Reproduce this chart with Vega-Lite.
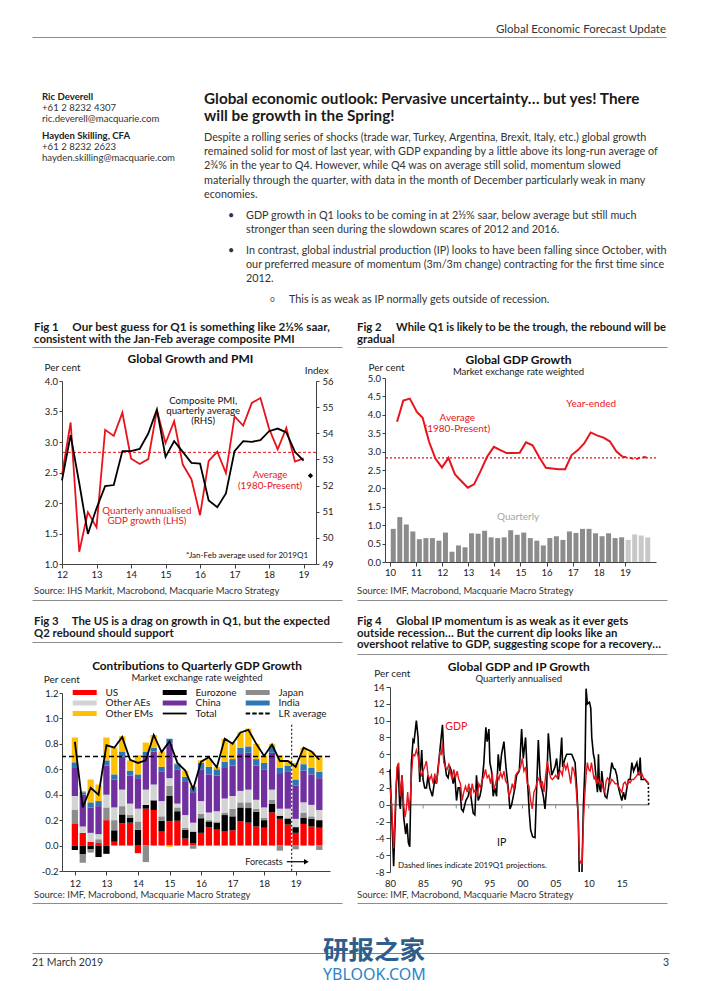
{
"$schema": "https://vega.github.io/schema/vega-lite/v6.json",
"padding": {"left": 32, "top": 0, "right": 0, "bottom": 4},
"background": "white",
"columns": 4,
"spacing": 0,
"bounds": "flush",
"align": "each",
"resolve": {"scale": {"color": "independent"}, "legend": {"color": "independent"}},
"config": {
  "view": {"stroke": null},
  "font": "Lato",
  "axis": {"labelFont": "Lato", "labelFontSize": 9.5, "labelColor": "#1a1a1a", "domainColor": "#404040", "tickColor": "#404040", "grid": false, "titleFont": "Lato", "titleFontWeight": "normal", "titleFontSize": 10, "titleColor": "#1a1a1a", "labelFlush": false, "labelOverlap": false, "tickSize": 3},
  "title": {"font": "Lato", "subtitleFont": "Lato", "frame": "group"},
  "text": {"font": "Lato"}
},
"datasets": {
  "gdp1": [{"t":12,"v":2.46},{"t":12.25,"v":3.32},{"t":12.5,"v":1.2},{"t":12.75,"v":1.85},{"t":13,"v":1.6},{"t":13.25,"v":3.2},{"t":13.5,"v":3.1},{"t":13.75,"v":3.48},{"t":14,"v":2.73},{"t":14.25,"v":2.64},{"t":14.5,"v":2.72},{"t":14.75,"v":3.52},{"t":15,"v":2.98},{"t":15.25,"v":3.34},{"t":15.5,"v":2.63},{"t":15.75,"v":2.39},{"t":16,"v":1.8},{"t":16.25,"v":2.69},{"t":16.5,"v":2.84},{"t":16.75,"v":2.49},{"t":17,"v":3.42},{"t":17.25,"v":3.27},{"t":17.5,"v":3.64},{"t":17.75,"v":3.72},{"t":18,"v":3.22},{"t":18.25,"v":2.88},{"t":18.5,"v":3.23},{"t":18.75,"v":2.68},{"t":19,"v":2.73}],
  "pmi1": [{"t":12,"p":52.2},{"t":12.25,"p":53.93},{"t":12.5,"p":52.09},{"t":12.75,"p":50.15},{"t":13,"p":51.13},{"t":13.25,"p":51.98},{"t":13.5,"p":52.02},{"t":13.75,"p":53.32},{"t":14,"p":53.32},{"t":14.25,"p":53.4},{"t":14.5,"p":53.99},{"t":14.75,"p":54.91},{"t":15,"p":53.1},{"t":15.25,"p":53.7},{"t":15.5,"p":53.29},{"t":15.75,"p":52.87},{"t":16,"p":52.84},{"t":16.25,"p":51.43},{"t":16.5,"p":51.17},{"t":16.75,"p":51.7},{"t":17,"p":53.32},{"t":17.25,"p":53.7},{"t":17.5,"p":53.67},{"t":17.75,"p":53.74},{"t":18,"p":54.08},{"t":18.25,"p":54.18},{"t":18.5,"p":54.03},{"t":18.75,"p":53.29},{"t":19,"p":52.95}],
  "bar2": [{"t":10.125,"v":0.9,"f":0},{"t":10.375,"v":1.22,"f":0},{"t":10.625,"v":1.02,"f":0},{"t":10.875,"v":0.83,"f":0},{"t":11.125,"v":0.62,"f":0},{"t":11.375,"v":0.65,"f":0},{"t":11.625,"v":0.65,"f":0},{"t":11.875,"v":0.58,"f":0},{"t":12.125,"v":0.8,"f":0},{"t":12.375,"v":0.28,"f":0},{"t":12.625,"v":0.45,"f":0},{"t":12.875,"v":0.4,"f":0},{"t":13.125,"v":0.78,"f":0},{"t":13.375,"v":0.77,"f":0},{"t":13.625,"v":0.85,"f":0},{"t":13.875,"v":0.67,"f":0},{"t":14.125,"v":0.65,"f":0},{"t":14.375,"v":0.67,"f":0},{"t":14.625,"v":0.86,"f":0},{"t":14.875,"v":0.74,"f":0},{"t":15.125,"v":0.8,"f":0},{"t":15.375,"v":0.65,"f":0},{"t":15.625,"v":0.58,"f":0},{"t":15.875,"v":0.45,"f":0},{"t":16.125,"v":0.65,"f":0},{"t":16.375,"v":0.7,"f":0},{"t":16.625,"v":0.6,"f":0},{"t":16.875,"v":0.83,"f":0},{"t":17.125,"v":0.79,"f":0},{"t":17.375,"v":0.9,"f":0},{"t":17.625,"v":0.9,"f":0},{"t":17.875,"v":0.78,"f":0},{"t":18.125,"v":0.7,"f":0},{"t":18.375,"v":0.78,"f":0},{"t":18.625,"v":0.65,"f":0},{"t":18.875,"v":0.67,"f":0},{"t":19.125,"v":0.6,"f":1},{"t":19.375,"v":0.75,"f":1},{"t":19.625,"v":0.72,"f":1},{"t":19.875,"v":0.67,"f":1}],
  "ye2": [{"t":10.27,"v":3.81},{"t":10.51,"v":4.39},{"t":10.76,"v":4.44},{"t":11.03,"v":4.08},{"t":11.25,"v":3.92},{"t":11.5,"v":3.26},{"t":11.74,"v":2.81},{"t":11.99,"v":2.57},{"t":12.24,"v":2.83},{"t":12.49,"v":2.38},{"t":12.73,"v":2.2},{"t":12.98,"v":2.02},{"t":13.22,"v":2.11},{"t":13.47,"v":2.47},{"t":13.72,"v":2.86},{"t":13.98,"v":3.13},{"t":14.23,"v":3.04},{"t":14.47,"v":2.96},{"t":14.72,"v":2.96},{"t":14.97,"v":2.97},{"t":15.21,"v":3.25},{"t":15.46,"v":3.17},{"t":15.71,"v":2.86},{"t":15.97,"v":2.56},{"t":16.21,"v":2.54},{"t":16.46,"v":2.52},{"t":16.71,"v":2.52},{"t":16.95,"v":2.9},{"t":17.2,"v":3.04},{"t":17.44,"v":3.22},{"t":17.69,"v":3.52},{"t":17.93,"v":3.44},{"t":18.18,"v":3.38},{"t":18.42,"v":3.28},{"t":18.67,"v":3.01},{"t":18.91,"v":2.86}],
  "ye2f": [{"t":18.91,"v":2.86},{"t":19.16,"v":2.84},{"t":19.41,"v":2.79},{"t":19.65,"v":2.86},{"t":19.9,"v":2.83}],
  "c3": [
    {"t":12,"US":0.175,"Eurozone":-0.035,"Japan":0.105,"Other AEs":0.11,"China":0.22,"India":0.045,"Other EMs":0.195,"tot":0.815},
    {"t":12.25,"US":0.1,"Eurozone":-0.07,"Japan":-0.065,"Other AEs":0.05,"China":0.25,"India":0.02,"Other EMs":0.01,"tot":0.3},
    {"t":12.5,"US":0.03,"Eurozone":-0.03,"Japan":-0.025,"Other AEs":0.07,"China":0.2,"India":0.04,"Other EMs":0.18,"tot":0.455},
    {"t":12.75,"US":0.02,"Eurozone":-0.09,"Japan":0.03,"Other AEs":0.04,"China":0.22,"India":0.04,"Other EMs":0.13,"tot":0.4},
    {"t":13,"US":0.2,"Eurozone":-0.065,"Japan":0.1,"Other AEs":0.1,"China":0.23,"India":0.04,"Other EMs":0.18,"tot":0.79},
    {"t":13.25,"US":0.03,"Eurozone":0.09,"Japan":0.08,"Other AEs":0.1,"China":0.22,"India":0.04,"Other EMs":0.21,"tot":0.77},
    {"t":13.5,"US":0.175,"Eurozone":0.07,"Japan":0.065,"Other AEs":0.13,"China":0.26,"India":0.04,"Other EMs":0.12,"tot":0.855},
    {"t":13.75,"US":0.18,"Eurozone":0.04,"Japan":0.02,"Other AEs":0.09,"China":0.22,"India":0.04,"Other EMs":0.08,"tot":0.675},
    {"t":14,"US":-0.06,"Eurozone":0.125,"Japan":0.065,"Other AEs":0.1,"China":0.24,"India":0.03,"Other EMs":0.15,"tot":0.65},
    {"t":14.25,"US":0.29,"Eurozone":0.03,"Japan":-0.13,"Other AEs":0.12,"China":0.27,"India":0.03,"Other EMs":0.07,"tot":0.67},
    {"t":14.5,"US":0.28,"Eurozone":0.075,"Japan":0.005,"Other AEs":0.12,"China":0.26,"India":0.03,"Other EMs":0.1,"tot":0.87},
    {"t":14.75,"US":0.11,"Eurozone":0.085,"Japan":0.035,"Other AEs":0.12,"China":0.23,"India":0.04,"Other EMs":0.12,"tot":0.735},
    {"t":15,"US":0.19,"Eurozone":0.2,"Japan":0.08,"Other AEs":0.06,"China":0.27,"India":0.04,"Other EMs":-0.01,"tot":0.82},
    {"t":15.25,"US":0.195,"Eurozone":0.075,"Japan":0.03,"Other AEs":0.03,"China":0.27,"India":0.04,"Other EMs":0.01,"tot":0.65},
    {"t":15.5,"US":0.055,"Eurozone":0.07,"Japan":0.015,"Other AEs":0.1,"China":0.26,"India":0.04,"Other EMs":0.05,"tot":0.59},
    {"t":15.75,"US":0.02,"Eurozone":0.09,"Japan":-0.025,"Other AEs":0.07,"China":0.24,"India":0.04,"Other EMs":0.01,"tot":0.445},
    {"t":16,"US":0.1,"Eurozone":0.115,"Japan":0.035,"Other AEs":0.1,"China":0.25,"India":0.05,"Other EMs":0.02,"tot":0.66},
    {"t":16.25,"US":0.145,"Eurozone":0.045,"Japan":0.01,"Other AEs":0.06,"China":0.3,"India":0.06,"Other EMs":0.06,"tot":0.695},
    {"t":16.5,"US":0.125,"Eurozone":0.055,"Japan":0.01,"Other AEs":0.08,"China":0.28,"India":0.05,"Other EMs":0.02,"tot":0.615},
    {"t":16.75,"US":0.11,"Eurozone":0.13,"Japan":0.02,"Other AEs":0.11,"China":0.24,"India":0.05,"Other EMs":0.18,"tot":0.84},
    {"t":17,"US":0.12,"Eurozone":0.11,"Japan":0.06,"Other AEs":0.1,"China":0.24,"India":0.05,"Other EMs":0.13,"tot":0.8},
    {"t":17.25,"US":0.19,"Eurozone":0.11,"Japan":0.04,"Other AEs":0.09,"China":0.29,"India":0.05,"Other EMs":0.12,"tot":0.89},
    {"t":17.5,"US":0.18,"Eurozone":0.115,"Japan":0.045,"Other AEs":0.1,"China":0.29,"India":0.05,"Other EMs":0.14,"tot":0.91},
    {"t":17.75,"US":0.15,"Eurozone":0.115,"Japan":0.025,"Other AEs":0.07,"China":0.27,"India":0.05,"Other EMs":0.12,"tot":0.8},
    {"t":18,"US":0.14,"Eurozone":0.06,"Japan":0.02,"Other AEs":0.08,"China":0.3,"India":0.05,"Other EMs":0.06,"tot":0.705},
    {"t":18.25,"US":0.26,"Eurozone":0.07,"Japan":0.03,"Other AEs":0.08,"China":0.29,"India":0.05,"Other EMs":0.02,"tot":0.795},
    {"t":18.5,"US":0.21,"Eurozone":0.025,"Japan":-0.04,"Other AEs":0.055,"China":0.28,"India":0.04,"Other EMs":0.1,"tot":0.665},
    {"t":18.75,"US":0.165,"Eurozone":0.045,"Japan":0.01,"Other AEs":0.07,"China":0.29,"India":0.05,"Other EMs":0.04,"tot":0.665},
    {"t":19,"US":0.1,"Eurozone":0.045,"Japan":-0.03,"Other AEs":0.065,"China":0.26,"India":0.05,"Other EMs":0.13,"tot":0.62},
    {"t":19.25,"US":0.17,"Eurozone":0.05,"Japan":0.04,"Other AEs":0.08,"China":0.25,"India":0.05,"Other EMs":0.13,"tot":0.77},
    {"t":19.5,"US":0.15,"Eurozone":0.06,"Japan":0.02,"Other AEs":0.09,"China":0.24,"India":0.05,"Other EMs":0.13,"tot":0.74},
    {"t":19.75,"US":0.14,"Eurozone":0.06,"Japan":-0.035,"Other AEs":0.08,"China":0.25,"India":0.05,"Other EMs":0.13,"tot":0.675}
  ],
  "ip4": [{"t":1980,"v":4.2},{"t":1980.55,"v":-7.3},{"t":1980.96,"v":2.5},{"t":1981.21,"v":4.8},{"t":1981.46,"v":0},{"t":1981.56,"v":-0.5},{"t":1981.82,"v":3.5},{"t":1982.07,"v":-1.5},{"t":1982.37,"v":-3.5},{"t":1982.57,"v":-2.2},{"t":1982.77,"v":-4.5},{"t":1982.98,"v":-5},{"t":1983.23,"v":5},{"t":1983.48,"v":7.7},{"t":1983.63,"v":7.5},{"t":1983.98,"v":10},{"t":1984.24,"v":8},{"t":1984.49,"v":2.7},{"t":1984.79,"v":6.5},{"t":1984.99,"v":3},{"t":1985.24,"v":2},{"t":1985.5,"v":2},{"t":1985.75,"v":3.5},{"t":1986,"v":2},{"t":1986.4,"v":1},{"t":1986.76,"v":3},{"t":1987.01,"v":2.5},{"t":1987.41,"v":5.5},{"t":1987.92,"v":9.5},{"t":1988.12,"v":6},{"t":1988.52,"v":3.5},{"t":1988.77,"v":3.2},{"t":1989.03,"v":4.5},{"t":1989.28,"v":4},{"t":1989.53,"v":2.5},{"t":1989.78,"v":3.5},{"t":1990.04,"v":0.5},{"t":1990.29,"v":2},{"t":1990.54,"v":2},{"t":1990.79,"v":-0.5},{"t":1991.05,"v":-0.8},{"t":1991.45,"v":0.5},{"t":1991.8,"v":1},{"t":1992.05,"v":2},{"t":1992.3,"v":0.5},{"t":1992.56,"v":-1},{"t":1992.81,"v":-1.2},{"t":1993.06,"v":3.5},{"t":1993.31,"v":0.5},{"t":1993.57,"v":1},{"t":1993.82,"v":2},{"t":1994.17,"v":5},{"t":1994.47,"v":9.2},{"t":1994.67,"v":7.5},{"t":1994.93,"v":9},{"t":1995.08,"v":5},{"t":1995.33,"v":4},{"t":1995.58,"v":1},{"t":1995.83,"v":2},{"t":1996.09,"v":1},{"t":1996.34,"v":6},{"t":1996.59,"v":4},{"t":1996.84,"v":6},{"t":1997.2,"v":7.5},{"t":1997.5,"v":4.5},{"t":1997.85,"v":2},{"t":1998.1,"v":-0.5},{"t":1998.36,"v":0},{"t":1998.61,"v":1},{"t":1998.86,"v":2},{"t":1999.11,"v":3.5},{"t":1999.52,"v":4},{"t":1999.87,"v":9},{"t":2000.12,"v":5.5},{"t":2000.47,"v":8},{"t":2000.78,"v":2.5},{"t":2001.03,"v":-1},{"t":2001.23,"v":-3},{"t":2001.53,"v":-3.8},{"t":2001.89,"v":-3.9},{"t":2002.14,"v":2},{"t":2002.39,"v":7.7},{"t":2002.64,"v":3.5},{"t":2002.89,"v":2},{"t":2003.15,"v":1},{"t":2003.4,"v":-0.5},{"t":2003.65,"v":2},{"t":2003.9,"v":8.5},{"t":2004.15,"v":6},{"t":2004.41,"v":3.5},{"t":2004.66,"v":4},{"t":2004.91,"v":4.5},{"t":2005.16,"v":5.5},{"t":2005.42,"v":3},{"t":2005.67,"v":5},{"t":2005.92,"v":8},{"t":2006.07,"v":4.5},{"t":2006.42,"v":5.5},{"t":2006.68,"v":6},{"t":2006.93,"v":6},{"t":2007.43,"v":6},{"t":2007.69,"v":5.5},{"t":2007.94,"v":5},{"t":2008.19,"v":2},{"t":2008.44,"v":-2},{"t":2008.59,"v":-9},{"t":2008.95,"v":-9},{"t":2009.2,"v":0},{"t":2009.45,"v":5},{"t":2009.6,"v":13.8},{"t":2009.8,"v":12},{"t":2010.11,"v":12.2},{"t":2010.31,"v":11.5},{"t":2010.46,"v":8},{"t":2010.71,"v":6},{"t":2010.86,"v":5.5},{"t":2011.12,"v":3},{"t":2011.32,"v":1.5},{"t":2011.47,"v":6},{"t":2011.62,"v":2},{"t":2011.82,"v":1.5},{"t":2011.97,"v":4},{"t":2012.23,"v":2},{"t":2012.48,"v":1},{"t":2012.73,"v":0.8},{"t":2012.98,"v":2},{"t":2013.24,"v":3.5},{"t":2013.49,"v":5},{"t":2013.74,"v":4.3},{"t":2013.99,"v":4.2},{"t":2014.24,"v":3.5},{"t":2014.5,"v":2},{"t":2014.75,"v":1.2},{"t":2015,"v":0.5},{"t":2015.25,"v":1.5},{"t":2015.5,"v":0.6},{"t":2015.76,"v":2},{"t":2016.01,"v":3},{"t":2016.26,"v":3},{"t":2016.51,"v":5},{"t":2016.77,"v":4},{"t":2017.02,"v":4.5},{"t":2017.27,"v":5},{"t":2017.52,"v":3.5},{"t":2017.77,"v":5.6},{"t":2017.92,"v":3},{"t":2018.28,"v":3},{"t":2018.53,"v":3},{"t":2018.78,"v":2.7},{"t":2019,"v":2.6}],
  "ip4d": [{"t":2019,"v":2.6},{"t":2019.05,"v":0}],
  "gdp4": [{"t":1980,"v":2},{"t":1980.25,"v":0},{"t":1980.55,"v":-5.2},{"t":1980.86,"v":1},{"t":1981.06,"v":4.5},{"t":1981.31,"v":5},{"t":1981.56,"v":1},{"t":1981.82,"v":3.5},{"t":1982.07,"v":0},{"t":1982.27,"v":-1.5},{"t":1982.47,"v":-0.5},{"t":1982.67,"v":1.5},{"t":1982.87,"v":-0.7},{"t":1983.08,"v":1},{"t":1983.28,"v":4},{"t":1983.48,"v":6},{"t":1983.73,"v":5.8},{"t":1983.98,"v":6.5},{"t":1984.24,"v":5.8},{"t":1984.49,"v":4},{"t":1984.74,"v":3.5},{"t":1984.99,"v":4},{"t":1985.24,"v":4.5},{"t":1985.5,"v":5.2},{"t":1985.75,"v":3.5},{"t":1986,"v":3},{"t":1986.25,"v":3.5},{"t":1986.51,"v":2.5},{"t":1986.76,"v":3.7},{"t":1987.01,"v":2.5},{"t":1987.26,"v":4},{"t":1987.51,"v":6.2},{"t":1987.77,"v":6},{"t":1987.92,"v":7.4},{"t":1988.12,"v":5},{"t":1988.37,"v":4.5},{"t":1988.62,"v":4.2},{"t":1988.88,"v":4.8},{"t":1989.13,"v":3.8},{"t":1989.38,"v":3},{"t":1989.63,"v":4.2},{"t":1989.88,"v":3.2},{"t":1990.14,"v":4},{"t":1990.39,"v":3},{"t":1990.64,"v":2.5},{"t":1990.89,"v":0.5},{"t":1991.14,"v":1.5},{"t":1991.4,"v":2.2},{"t":1991.65,"v":1.5},{"t":1991.9,"v":2.5},{"t":1992.15,"v":1},{"t":1992.41,"v":2.5},{"t":1992.66,"v":1.5},{"t":1992.91,"v":1.8},{"t":1993.16,"v":1},{"t":1993.41,"v":2.5},{"t":1993.67,"v":2},{"t":1993.92,"v":3},{"t":1994.17,"v":3.3},{"t":1994.42,"v":4.2},{"t":1994.67,"v":3.2},{"t":1994.93,"v":3.5},{"t":1995.18,"v":2.5},{"t":1995.43,"v":3.8},{"t":1995.68,"v":1.8},{"t":1995.94,"v":2.5},{"t":1996.19,"v":3.5},{"t":1996.44,"v":3},{"t":1996.69,"v":3.8},{"t":1996.94,"v":3.2},{"t":1997.2,"v":4},{"t":1997.45,"v":2.8},{"t":1997.7,"v":2.5},{"t":1997.95,"v":1},{"t":1998.2,"v":1.5},{"t":1998.46,"v":2.5},{"t":1998.71,"v":1.8},{"t":1998.96,"v":3.5},{"t":1999.21,"v":3.8},{"t":1999.47,"v":4},{"t":1999.72,"v":4.5},{"t":1999.97,"v":5.5},{"t":2000.22,"v":4},{"t":2000.47,"v":4.5},{"t":2000.73,"v":2.5},{"t":2000.98,"v":2.2},{"t":2001.23,"v":0.5},{"t":2001.48,"v":-0.5},{"t":2001.73,"v":1.5},{"t":2001.99,"v":2},{"t":2002.24,"v":2.8},{"t":2002.49,"v":3.2},{"t":2002.74,"v":2.2},{"t":2002.99,"v":2.8},{"t":2003.25,"v":1.5},{"t":2003.5,"v":3.5},{"t":2003.75,"v":5.2},{"t":2004,"v":4},{"t":2004.26,"v":3.2},{"t":2004.51,"v":3},{"t":2004.76,"v":3.2},{"t":2005.01,"v":3.5},{"t":2005.26,"v":3.2},{"t":2005.52,"v":3.8},{"t":2005.77,"v":4},{"t":2006.02,"v":3.5},{"t":2006.27,"v":5},{"t":2006.53,"v":4.2},{"t":2006.78,"v":4.8},{"t":2007.03,"v":3.8},{"t":2007.28,"v":2.5},{"t":2007.53,"v":4.5},{"t":2007.79,"v":4},{"t":2007.99,"v":3},{"t":2008.19,"v":1},{"t":2008.39,"v":-1},{"t":2008.6,"v":-6.5},{"t":2008.85,"v":-7},{"t":2009,"v":-7},{"t":2009.2,"v":-2},{"t":2009.4,"v":1},{"t":2009.6,"v":3.5},{"t":2009.8,"v":5},{"t":2010,"v":4.2},{"t":2010.21,"v":4},{"t":2010.41,"v":5},{"t":2010.61,"v":4},{"t":2010.81,"v":3},{"t":2011.01,"v":3.5},{"t":2011.21,"v":2.5},{"t":2011.42,"v":3},{"t":2011.62,"v":2.5},{"t":2011.82,"v":2.8},{"t":2012.02,"v":2.5},{"t":2012.22,"v":1.8},{"t":2012.43,"v":1.5},{"t":2012.63,"v":2.8},{"t":2012.83,"v":3.2},{"t":2013.03,"v":3},{"t":2013.23,"v":2.5},{"t":2013.48,"v":3},{"t":2013.74,"v":2.8},{"t":2013.99,"v":2.5},{"t":2014.24,"v":2.5},{"t":2014.49,"v":2.2},{"t":2014.75,"v":1.8},{"t":2015,"v":1.5},{"t":2015.25,"v":2.5},{"t":2015.5,"v":2.7},{"t":2015.75,"v":2.2},{"t":2016.01,"v":2.8},{"t":2016.26,"v":2.6},{"t":2016.51,"v":3},{"t":2016.76,"v":3},{"t":2017.01,"v":3.2},{"t":2017.27,"v":3.5},{"t":2017.52,"v":3.8},{"t":2017.77,"v":3.5},{"t":2018.02,"v":3.7},{"t":2018.27,"v":3.2},{"t":2018.53,"v":3},{"t":2018.78,"v":2.8},{"t":2019.03,"v":2.5}]
},
"concat": [
  {"width": 1, "height": 37, "data": {"values": [{"a": 0}]}, "mark": {"type": "text", "text": ""},
   "encoding": {"x": {"field": "a", "type": "quantitative", "scale": {"domain": [0, 1], "range": [0, 634]}, "axis": {"orient": "bottom", "labels": false, "ticks": false, "grid": false, "title": null, "domainColor": "#8c8c8c", "domainWidth": 1.2}}},
   "title": {"text": "Global Economic Forecast Update", "orient": "bottom", "anchor": "end", "frame": "group", "offset": -13.5, "dx": 633, "fontSize": 11.5, "fontWeight": "normal", "color": "#333333"}},
  {"width": 1, "height": 1, "data": {"values": []}, "mark": "text"},
  {"width": 1, "height": 1, "data": {"values": []}, "mark": "text"},
  {"width": 1, "height": 1, "data": {"values": []}, "mark": "text"},

  {"width": 1, "height": 55, "data": {"values": []}, "mark": "text",
   "title": {"text": "Ric Deverell", "subtitle": ["+61 2 8232 4307", "ric.deverell@macquarie.com"], "orient": "bottom", "anchor": "start", "frame": "group", "offset": 0, "dx": 10, "fontSize": 9.6, "fontWeight": "bold", "color": "#222222", "subtitleFontSize": 9.6, "subtitleFontWeight": "normal", "subtitleColor": "#333333", "subtitleLineHeight": 11, "subtitlePadding": 1.4}},
  {"width": 1, "height": 55, "data": {"values": []}, "mark": "text",
   "title": {"text": ["Global economic outlook: Pervasive uncertainty… but yes! There", "will be growth in the Spring!"],
     "subtitle": ["Despite a rolling series of shocks (trade war, Turkey, Argentina, Brexit, Italy, etc.) global growth", "remained solid for most of last year, with GDP expanding by a little above its long-run average of", "2¾% in the year to Q4. However, while Q4 was on average still solid, momentum slowed", "materially through the quarter, with data in the month of December particularly weak in many", "economies."],
     "orient": "bottom", "anchor": "start", "frame": "group", "offset": 0, "dx": 142, "fontSize": 15.3, "fontWeight": "bold", "lineHeight": 16.5, "color": "#1a1a1a", "subtitleFontSize": 10.8, "subtitleFontWeight": "normal", "subtitleColor": "#333333", "subtitleLineHeight": 14.2, "subtitlePadding": 8.2}},
  {"width": 1, "height": 1, "data": {"values": []}, "mark": "text"},
  {"width": 1, "height": 1, "data": {"values": []}, "mark": "text"},

  {"width": 1, "height": 39, "data": {"values": []}, "mark": "text",
   "title": {"text": "Hayden Skilling, CFA", "subtitle": ["+61 2 8232 2623", "hayden.skilling@macquarie.com"], "orient": "bottom", "anchor": "start", "frame": "group", "offset": 0, "dx": 10, "fontSize": 9.6, "fontWeight": "bold", "color": "#222222", "subtitleFontSize": 9.6, "subtitleFontWeight": "normal", "subtitleColor": "#333333", "subtitleLineHeight": 11, "subtitlePadding": 1.4}},
  {"width": 1, "height": 1, "data": {"values": []}, "mark": "text"},
  {"width": 1, "height": 1, "data": {"values": []}, "mark": "text"},
  {"width": 1, "height": 1, "data": {"values": []}, "mark": "text"},

  {"width": 1, "height": 79, "data": {"values": []}, "mark": "text",
   "title": {"text": "•", "orient": "bottom", "anchor": "start", "frame": "group", "offset": 0, "dx": 196, "fontSize": 10.8, "fontWeight": "normal", "color": "#333333"}},
  {"width": 1, "height": 79, "data": {"values": []}, "mark": "text",
   "title": {"text": ["GDP growth in Q1 looks to be coming in at 2½% saar, below average but still much", "stronger than seen during the slowdown scares of 2012 and 2016."], "orient": "bottom", "anchor": "start", "frame": "group", "offset": 0, "dx": 184, "fontSize": 10.8, "lineHeight": 14, "fontWeight": "normal", "color": "#333333"}},
  {"width": 1, "height": 1, "data": {"values": []}, "mark": "text"},
  {"width": 1, "height": 1, "data": {"values": []}, "mark": "text"},

  {"width": 1, "height": 35, "data": {"values": []}, "mark": "text",
   "title": {"text": "•", "orient": "bottom", "anchor": "start", "frame": "group", "offset": 0, "dx": 196, "fontSize": 10.8, "fontWeight": "normal", "color": "#333333"}},
  {"width": 1, "height": 35, "data": {"values": []}, "mark": "text",
   "title": {"text": ["In contrast, global industrial production (IP) looks to have been falling since October, with", "our preferred measure of momentum (3m/3m change) contracting for the first time since", "2012."], "orient": "bottom", "anchor": "start", "frame": "group", "offset": 0, "dx": 184, "fontSize": 10.8, "lineHeight": 14, "fontWeight": "normal", "color": "#333333"}},
  {"width": 1, "height": 1, "data": {"values": []}, "mark": "text"},
  {"width": 1, "height": 1, "data": {"values": []}, "mark": "text"},

  {"width": 1, "height": 49, "data": {"values": []}, "mark": "text",
   "title": {"text": "o", "orient": "bottom", "anchor": "start", "frame": "group", "offset": 0, "dx": 238, "dy": 1, "fontSize": 8.5, "fontWeight": "normal", "color": "#555555"}},
  {"width": 1, "height": 49, "data": {"values": []}, "mark": "text",
   "title": {"text": "This is as weak as IP normally gets outside of recession.", "orient": "bottom", "anchor": "start", "frame": "group", "offset": 0, "dx": 227, "fontSize": 10.8, "fontWeight": "normal", "color": "#333333"}},
  {"width": 1, "height": 1, "data": {"values": []}, "mark": "text"},
  {"width": 1, "height": 1, "data": {"values": []}, "mark": "text"},

  {"width": 1, "height": 28, "data": {"values": []}, "mark": "text",
   "title": {"text": ["Fig 1", "consistent with the Jan-Feb average composite PMI"], "orient": "bottom", "anchor": "start", "frame": "group", "offset": 0, "dx": 2, "fontSize": 11.4, "fontWeight": "bold", "lineHeight": 11.7, "color": "#1a1a1a"}},
  {"width": 1, "height": 28, "data": {"values": []}, "mark": "text",
   "title": {"text": "Our best guess for Q1 is something like 2½% saar,", "orient": "bottom", "anchor": "start", "frame": "group", "offset": 0, "dx": 10.3, "fontSize": 11.7, "fontWeight": "bold", "color": "#1a1a1a"}},
  {"width": 1, "height": 28, "data": {"values": []}, "mark": "text",
   "title": {"text": ["Fig 2", "gradual"], "orient": "bottom", "anchor": "start", "frame": "group", "offset": 0, "dx": 27, "fontSize": 11.4, "fontWeight": "bold", "lineHeight": 11.7, "color": "#1a1a1a"}},
  {"width": 1, "height": 28, "data": {"values": []}, "mark": "text",
   "title": {"text": "While Q1 is likely to be the trough, the rebound will be", "orient": "bottom", "anchor": "start", "frame": "group", "offset": 0, "dx": 11, "fontSize": 11.15, "fontWeight": "bold", "color": "#1a1a1a"}},

  {"width": 1, "height": 25, "data": {"values": [{"a": 0}]}, "mark": {"type": "text", "text": ""},
   "encoding": {"x": {"field": "a", "type": "quantitative", "scale": {"domain": [0, 1], "range": [0, 310]}, "axis": {"orient": "bottom", "labels": false, "ticks": false, "grid": false, "title": null, "domainColor": "#8c8c8c", "domainWidth": 1.2}}},
   "title": {"text": "Global Growth and PMI", "orient": "bottom", "anchor": "middle", "frame": "group", "offset": 7, "dx": 158, "fontSize": 12, "fontWeight": "bold", "color": "#111111"}},
  {"width": 1, "height": 56, "data": {"values": []}, "mark": "text"},
  {"width": 1, "height": 1, "data": {"values": []}, "mark": "text"},
  {"width": 1, "height": 25, "data": {"values": [{"a": 0}]}, "mark": {"type": "text", "text": ""},
   "encoding": {"x": {"field": "a", "type": "quantitative", "scale": {"domain": [0, 1], "range": [-28, 282]}, "axis": {"orient": "bottom", "labels": false, "ticks": false, "grid": false, "title": null, "domainColor": "#8c8c8c", "domainWidth": 1.2}}},
   "title": {"text": "Global GDP Growth", "subtitle": "Market exchange rate weighted", "orient": "bottom", "anchor": "middle", "frame": "group", "offset": 7.5, "dx": 133, "fontSize": 12, "fontWeight": "bold", "color": "#111111", "subtitleFontSize": 9.5, "subtitleColor": "#1a1a1a", "subtitlePadding": 0}},

  {"width": 30, "height": 1, "data": {"values": []}, "mark": "text"},
  {"width": 254, "height": 186,
   "layer": [
     {"layer": [
       {"data": {"values": [{"v": 2.83}]}, "mark": {"type": "rule", "color": "#e8141c", "strokeDash": [3, 2], "strokeWidth": 1},
        "encoding": {"y": {"field": "v", "type": "quantitative", "scale": {"domain": [1, 4], "range": [186, 3], "nice": false, "zero": false},
          "axis": {"values": [1, 1.5, 2, 2.5, 3, 3.5, 4], "tickCount": 50, "format": ".1f", "labelOverlap": false, "title": "Per cent", "titleAngle": 0, "titleAlign": "left", "titleBaseline": "alphabetic", "titleX": -18, "titleY": -8, "labelPadding": 1.5, "tickSize": 3}}}},
       {"data": {"name": "gdp1"}, "mark": {"type": "line", "color": "#e8141c", "strokeWidth": 1.8},
        "encoding": {"x": {"field": "t", "type": "quantitative", "scale": {"domain": [12, 19.36], "nice": false, "zero": false}, "axis": {"values": [12, 13, 14, 15, 16, 17, 18, 19], "tickCount": 50, "format": "d", "labelOverlap": false, "title": null, "tickSize": 4, "labelPadding": 1}},
          "y": {"field": "v", "type": "quantitative", "scale": {"domain": [1, 4], "range": [186, 3], "nice": false, "zero": false}}}},
       {"data": {"values": [{"t": 14.46, "v": 1.877, "label": "Quarterly annualised\nGDP growth (LHS)"}, {"t": 18.03, "v": 2.459, "label": "Average\n(1980-Present)"}]},
        "mark": {"type": "text", "color": "#e8141c", "fontSize": 9.8, "lineBreak": "\n", "lineHeight": 10.5},
        "encoding": {"x": {"field": "t", "type": "quantitative", "scale": {"domain": [12, 19.36], "nice": false, "zero": false}}, "y": {"field": "v", "type": "quantitative", "scale": {"domain": [1, 4], "range": [186, 3], "nice": false, "zero": false}}, "text": {"field": "label"}}},
       {"data": {"values": [{"t": 16.09, "v": 3.675, "label": "Composite PMI,\nquarterly average\n(RHS)"}]},
        "mark": {"type": "text", "color": "#111111", "fontSize": 9.7, "lineBreak": "\n", "lineHeight": 10.2},
        "encoding": {"x": {"field": "t", "type": "quantitative", "scale": {"domain": [12, 19.36], "nice": false, "zero": false}}, "y": {"field": "v", "type": "quantitative", "scale": {"domain": [1, 4], "range": [186, 3], "nice": false, "zero": false}}, "text": {"field": "label"}}},
       {"data": {"values": [{"t": 19.13, "v": 1.131, "label": "*Jan-Feb average used for 2019Q1"}]},
        "mark": {"type": "text", "color": "#111111", "fontSize": 8, "align": "right"},
        "encoding": {"x": {"field": "t", "type": "quantitative", "scale": {"domain": [12, 19.36], "nice": false, "zero": false}}, "y": {"field": "v", "type": "quantitative", "scale": {"domain": [1, 4], "range": [186, 3], "nice": false, "zero": false}}, "text": {"field": "label"}}}
     ]},
     {"layer": [
       {"data": {"name": "pmi1"}, "mark": {"type": "line", "color": "#000000", "strokeWidth": 1.8},
        "encoding": {"x": {"field": "t", "type": "quantitative", "scale": {"domain": [12, 19.36], "nice": false, "zero": false}},
          "y": {"field": "p", "type": "quantitative", "scale": {"domain": [49, 56], "range": [186, 3], "nice": false, "zero": false},
            "axis": {"orient": "right", "values": [49, 50, 51, 52, 53, 54, 55, 56], "tickCount": 50, "format": "d", "labelOverlap": false, "title": "Index", "titleAngle": 0, "titleAlign": "right", "titleBaseline": "alphabetic", "titleX": 12.3, "titleY": -4.3, "tickSize": 3, "labelPadding": 3}}}},
       {"data": {"values": [{"t": 19.2, "p": 52.38}]}, "mark": {"type": "point", "shape": "diamond", "filled": true, "color": "#000000", "size": 28, "opacity": 1},
        "encoding": {"x": {"field": "t", "type": "quantitative", "scale": {"domain": [12, 19.36], "nice": false, "zero": false}},
          "y": {"field": "p", "type": "quantitative", "scale": {"domain": [49, 56], "range": [186, 3], "nice": false, "zero": false}}}}
     ]}
   ],
   "resolve": {"scale": {"y": "independent"}}
  },
  {"width": 55, "height": 1, "data": {"values": []}, "mark": "text"},
  {"width": 271, "height": 184,
   "layer": [
     {"data": {"name": "bar2"}, "transform": [{"filter": "datum.f == 0"}], "mark": {"type": "bar", "color": "#8c8c8c", "size": 5},
      "encoding": {"x": {"field": "t", "type": "quantitative", "scale": {"domain": [10, 20], "nice": false, "zero": false}, "axis": {"values": [10, 11, 12, 13, 14, 15, 16, 17, 18, 19], "tickCount": 50, "format": "d", "labelOverlap": false, "title": null, "tickSize": 4, "labelPadding": 1}},
        "y": {"field": "v", "type": "quantitative", "scale": {"domain": [0, 5], "nice": false}, "axis": {"values": [0, 0.5, 1, 1.5, 2, 2.5, 3, 3.5, 4, 4.5, 5], "tickCount": 50, "format": ".1f", "labelOverlap": false, "title": "Per cent", "titleAngle": 0, "titleAlign": "left", "titleBaseline": "alphabetic", "titleX": -17, "titleY": -8, "labelPadding": 1.5, "tickSize": 3}}}},
     {"data": {"name": "bar2"}, "transform": [{"filter": "datum.f == 1"}], "mark": {"type": "bar", "color": "#c8c8c8", "size": 5},
      "encoding": {"x": {"field": "t", "type": "quantitative", "scale": {"domain": [10, 20], "nice": false, "zero": false}}, "y": {"field": "v", "type": "quantitative", "scale": {"domain": [0, 5], "nice": false}}}},
     {"data": {"values": [{"v": 2.83}]}, "mark": {"type": "rule", "color": "#e8141c", "strokeDash": [2, 2], "strokeWidth": 1.2},
      "encoding": {"y": {"field": "v", "type": "quantitative", "scale": {"domain": [0, 5], "nice": false}}}},
     {"data": {"name": "ye2"}, "mark": {"type": "line", "color": "#e8141c", "strokeWidth": 2},
      "encoding": {"x": {"field": "t", "type": "quantitative", "scale": {"domain": [10, 20], "nice": false, "zero": false}}, "y": {"field": "v", "type": "quantitative", "scale": {"domain": [0, 5], "nice": false}}}},
     {"data": {"name": "ye2f"}, "mark": {"type": "line", "color": "#e8141c", "strokeWidth": 2, "strokeDash": [4, 3]},
      "encoding": {"x": {"field": "t", "type": "quantitative", "scale": {"domain": [10, 20], "nice": false, "zero": false}}, "y": {"field": "v", "type": "quantitative", "scale": {"domain": [0, 5], "nice": false}}}},
     {"data": {"values": [{"t": 12.58, "v": 3.91, "label": "Average\n(1980-Present)"}, {"t": 17.71, "v": 4.29, "label": "Year-ended"}]},
      "mark": {"type": "text", "color": "#e8141c", "fontSize": 10, "lineBreak": "\n", "lineHeight": 10.5},
      "encoding": {"x": {"field": "t", "type": "quantitative", "scale": {"domain": [10, 20], "nice": false, "zero": false}}, "y": {"field": "v", "type": "quantitative", "scale": {"domain": [0, 5], "nice": false}}, "text": {"field": "label"}}},
     {"data": {"values": [{"t": 14.91, "v": 1.22, "label": "Quarterly"}]},
      "mark": {"type": "text", "color": "#a6a6a6", "fontSize": 10},
      "encoding": {"x": {"field": "t", "type": "quantitative", "scale": {"domain": [10, 20], "nice": false, "zero": false}}, "y": {"field": "v", "type": "quantitative", "scale": {"domain": [0, 5], "nice": false}}, "text": {"field": "label"}}}
   ]
  },

  {"width": 1, "height": 36, "data": {"values": [{"a": 0}]}, "mark": {"type": "text", "text": ""},
   "encoding": {"x": {"field": "a", "type": "quantitative", "scale": {"domain": [0, 1], "range": [0, 310]}, "axis": {"orient": "bottom", "labels": false, "ticks": false, "grid": false, "title": null, "domainColor": "#8c8c8c", "domainWidth": 1.2}}},
   "title": {"text": "Source: IHS Markit, Macrobond, Macquarie Macro Strategy", "orient": "bottom", "anchor": "start", "frame": "group", "offset": -14.5, "dx": 2, "fontSize": 9.5, "fontWeight": "normal", "color": "#333333"}},
  {"width": 1, "height": 1, "data": {"values": []}, "mark": "text"},
  {"width": 1, "height": 1, "data": {"values": []}, "mark": "text"},
  {"width": 1, "height": 36, "data": {"values": [{"a": 0}]}, "mark": {"type": "text", "text": ""},
   "encoding": {"x": {"field": "a", "type": "quantitative", "scale": {"domain": [0, 1], "range": [-28, 282]}, "axis": {"orient": "bottom", "labels": false, "ticks": false, "grid": false, "title": null, "domainColor": "#8c8c8c", "domainWidth": 1.2}}},
   "title": {"text": "Source: IMF, Macrobond, Macquarie Macro Strategy", "orient": "bottom", "anchor": "start", "frame": "group", "offset": -14.5, "dx": -28, "fontSize": 9.5, "fontWeight": "normal", "color": "#333333"}},

  {"width": 1, "height": 16, "data": {"values": []}, "mark": "text",
   "title": {"text": ["Fig 3", "Q2 rebound should support"], "orient": "bottom", "anchor": "start", "frame": "group", "offset": 0, "dx": 2, "fontSize": 11.4, "fontWeight": "bold", "lineHeight": 11.7, "color": "#1a1a1a"}},
  {"width": 1, "height": 16, "data": {"values": []}, "mark": "text",
   "title": {"text": "The US is a drag on growth in Q1, but the expected", "orient": "bottom", "anchor": "start", "frame": "group", "offset": 0, "dx": 9.7, "fontSize": 11.4, "fontWeight": "bold", "color": "#1a1a1a"}},
  {"width": 1, "height": 16, "data": {"values": []}, "mark": "text",
   "title": {"text": ["Fig 4", "outside recession… But the current dip looks like an", "overshoot relative to GDP, suggesting scope for a recovery…"], "orient": "bottom", "anchor": "start", "frame": "group", "offset": 0, "dx": 27, "fontSize": 11.4, "fontWeight": "bold", "lineHeight": 11.7, "color": "#1a1a1a"}},
  {"width": 1, "height": 16, "data": {"values": []}, "mark": "text",
   "title": {"text": "Global IP momentum is as weak as it ever gets", "orient": "bottom", "anchor": "start", "frame": "group", "offset": 0, "dx": 11, "fontSize": 11.4, "fontWeight": "bold", "color": "#1a1a1a"}},

  {"width": 1, "height": 26, "data": {"values": [{"a": 0}]}, "mark": {"type": "text", "text": ""},
   "encoding": {"x": {"field": "a", "type": "quantitative", "scale": {"domain": [0, 1], "range": [0, 310]}, "axis": {"orient": "bottom", "labels": false, "ticks": false, "grid": false, "title": null, "domainColor": "#8c8c8c", "domainWidth": 1.2}}},
   "title": {"text": "Contributions to Quarterly GDP Growth", "subtitle": "Market exchange rate weighted", "orient": "bottom", "anchor": "middle", "frame": "group", "offset": 19, "dx": 164.5, "fontSize": 11.8, "fontWeight": "bold", "color": "#111111", "subtitleFontSize": 9.5, "subtitleColor": "#1a1a1a", "subtitlePadding": 0}},
  {"width": 1, "height": 71, "data": {"values": []}, "mark": "text"},
  {"width": 1, "height": 1, "data": {"values": []}, "mark": "text"},
  {"width": 1, "height": 38, "data": {"values": [{"a": 0}]}, "mark": {"type": "text", "text": ""},
   "encoding": {"x": {"field": "a", "type": "quantitative", "scale": {"domain": [0, 1], "range": [-28, 282]}, "axis": {"orient": "bottom", "labels": false, "ticks": false, "grid": false, "title": null, "domainColor": "#8c8c8c", "domainWidth": 1.2}}},
   "title": {"text": "Global GDP and IP Growth", "subtitle": "Quarterly annualised", "orient": "bottom", "anchor": "middle", "frame": "group", "offset": 7.7, "dx": 133.3, "fontSize": 12, "fontWeight": "bold", "color": "#111111", "subtitleFontSize": 9.5, "subtitleColor": "#1a1a1a", "subtitlePadding": 0}},

  {"width": 1, "height": 1, "data": {"values": []}, "mark": "text"},
  {"width": 268, "height": 184,
   "layer": [
     {"data": {"values": [{"c": "US"}, {"c": "Eurozone"}, {"c": "Japan"}, {"c": "Other AEs"}, {"c": "China"}, {"c": "India"}, {"c": "Other EMs"}, {"c": "Total"}, {"c": "LR average"}]},
      "mark": {"type": "point", "filled": true, "clip": true, "opacity": 1},
      "encoding": {"x": {"datum": 5, "type": "quantitative", "scale": {"domain": [11.75, 19.93], "nice": false, "zero": false}},
        "y": {"datum": 0.5, "type": "quantitative", "scale": {"domain": [-0.2, 1.2], "range": [184, 6], "nice": false, "zero": false}},
        "color": {"field": "c", "type": "nominal",
          "scale": {"domain": ["US", "Eurozone", "Japan", "Other AEs", "China", "India", "Other EMs", "Total", "LR average"], "range": ["#ff0000", "#000000", "#8c8c8c", "#d3d3d3", "#7030a0", "#2e75b6", "#ffc000", "#000000", "#000000"]},
          "legend": {"title": null, "orient": "none", "direction": "horizontal", "legendX": 17.7, "legendY": 0.5, "columns": 3, "symbolType": "M-4.53,-0.94L4.53,-0.94L4.53,0.94L-4.53,0.94Z", "symbolSize": 28, "symbolStrokeWidth": 0, "symbolOpacity": 1, "labelFontSize": 10, "labelFont": "Lato", "labelColor": "#1a1a1a", "labelOffset": 15.8, "columnPadding": 9, "rowPadding": 0.5, "padding": 0, "offset": 0,
            "encode": {"symbols": {"update": {"shape": {"signal": "datum.value === 'Total' ? 'M-4.53,-0.34L4.53,-0.34L4.53,0.34L-4.53,0.34Z' : datum.value === 'LR average' ? 'M-4.53,-0.34L-2.83,-0.34L-2.83,0.34L-4.53,0.34ZM-2.07,-0.34L-0.37,-0.34L-0.37,0.34L-2.07,0.34ZM0.39,-0.34L2.09,-0.34L2.09,0.34L0.39,0.34ZM2.85,-0.34L4.55,-0.34L4.55,0.34L2.85,0.34Z' : 'M-4.53,-0.94L4.53,-0.94L4.53,0.94L-4.53,0.94Z'"}, "strokeWidth": {"value": 0}}}}}}}},
     {"data": {"name": "c3"},
      "transform": [{"fold": ["US", "Eurozone", "Japan", "Other AEs", "China", "India", "Other EMs"], "as": ["c", "v"]},
        {"lookup": "c", "from": {"data": {"values": [{"c": "US", "k": 1}, {"c": "Eurozone", "k": 2}, {"c": "Japan", "k": 3}, {"c": "Other AEs", "k": 4}, {"c": "China", "k": 5}, {"c": "India", "k": 6}, {"c": "Other EMs", "k": 7}]}, "key": "c", "fields": ["k"]}}],
      "mark": {"type": "bar", "size": 6.3},
      "encoding": {"x": {"field": "t", "type": "quantitative", "scale": {"domain": [11.75, 19.93], "nice": false, "zero": false}, "axis": {"values": [12, 13, 14, 15, 16, 17, 18, 19], "tickCount": 50, "format": "d", "labelOverlap": false, "title": null, "tickSize": 4, "labelPadding": 3}},
        "y": {"field": "v", "type": "quantitative", "stack": "zero", "scale": {"domain": [-0.2, 1.2], "range": [184, 6], "nice": false, "zero": false},
          "axis": {"values": [-0.2, 0, 0.2, 0.4, 0.6, 0.8, 1, 1.2], "tickCount": 50, "format": ".1f", "labelOverlap": false, "labelExpr": "replace(datum.label, '−', '-')", "title": "Per cent", "titleAngle": 0, "titleAlign": "left", "titleBaseline": "alphabetic", "titleX": -18.7, "titleY": -4.3, "labelPadding": 1, "tickSize": 3}},
        "color": {"field": "c", "type": "nominal", "scale": {"domain": ["US", "Eurozone", "Japan", "Other AEs", "China", "India", "Other EMs", "Total", "LR average"], "range": ["#ff0000", "#000000", "#8c8c8c", "#d3d3d3", "#7030a0", "#2e75b6", "#ffc000", "#000000", "#000000"]}, "legend": null},
        "order": {"field": "k", "type": "quantitative"}}},
     {"data": {"name": "c3"}, "mark": {"type": "line", "color": "#000000", "strokeWidth": 1.8},
      "encoding": {"x": {"field": "t", "type": "quantitative", "scale": {"domain": [11.75, 19.93], "nice": false, "zero": false}}, "y": {"field": "tot", "type": "quantitative", "scale": {"domain": [-0.2, 1.2], "range": [184, 6], "nice": false, "zero": false}}}},
     {"data": {"values": [{"v": 0.7}]}, "mark": {"type": "rule", "color": "#000000", "strokeDash": [5, 3], "strokeWidth": 1.6},
      "encoding": {"y": {"field": "v", "type": "quantitative", "scale": {"domain": [-0.2, 1.2], "range": [184, 6], "nice": false, "zero": false}}}},
     {"data": {"values": [{"t": 18.875, "v": 0.95, "v2": -0.2}]}, "mark": {"type": "rule", "color": "#000000", "strokeDash": [2, 2], "strokeWidth": 1},
      "encoding": {"x": {"field": "t", "type": "quantitative", "scale": {"domain": [11.75, 19.93], "nice": false, "zero": false}}, "y": {"field": "v", "type": "quantitative", "scale": {"domain": [-0.2, 1.2], "range": [184, 6], "nice": false, "zero": false}}, "y2": {"field": "v2"}}},
     {"data": {"values": [{"t": 18.59, "v": -0.127, "label": "Forecasts"}]}, "mark": {"type": "text", "align": "right", "fontSize": 9, "color": "#1a1a1a"},
      "encoding": {"x": {"field": "t", "type": "quantitative", "scale": {"domain": [11.75, 19.93], "nice": false, "zero": false}}, "y": {"field": "v", "type": "quantitative", "scale": {"domain": [-0.2, 1.2], "range": [184, 6], "nice": false, "zero": false}}, "text": {"field": "label"}}},
     {"data": {"values": [{"t": 18.72, "t2": 19.3, "v": -0.127}]}, "mark": {"type": "rule", "color": "#000000", "strokeWidth": 1.2},
      "encoding": {"x": {"field": "t", "type": "quantitative", "scale": {"domain": [11.75, 19.93], "nice": false, "zero": false}}, "x2": {"field": "t2"}, "y": {"field": "v", "type": "quantitative", "scale": {"domain": [-0.2, 1.2], "range": [184, 6], "nice": false, "zero": false}}}},
     {"data": {"values": [{"t": 19.34, "v": -0.127}]}, "mark": {"type": "point", "shape": "triangle-right", "filled": true, "color": "#000000", "size": 30, "opacity": 1},
      "encoding": {"x": {"field": "t", "type": "quantitative", "scale": {"domain": [11.75, 19.93], "nice": false, "zero": false}}, "y": {"field": "v", "type": "quantitative", "scale": {"domain": [-0.2, 1.2], "range": [184, 6], "nice": false, "zero": false}}}}
   ]
  },
  {"width": 1, "height": 1, "data": {"values": []}, "mark": "text"},
  {"width": 264, "height": 185,
   "layer": [
     {"data": {"values": [{"v": 0}]}, "mark": {"type": "rule", "color": "#8c8c8c", "strokeWidth": 1.5},
      "encoding": {"x": {"datum": 1980, "type": "quantitative", "scale": {"domain": [1980, 2019.1], "range": [5, 264], "nice": false, "zero": false}}, "x2": {"datum": 2019.1},
        "y": {"field": "v", "type": "quantitative", "scale": {"domain": [-8, 14], "nice": false, "zero": false},
        "axis": {"values": [-8, -6, -4, -2, 0, 2, 4, 6, 8, 10, 12, 14], "tickCount": 50, "format": "d", "labelOverlap": false, "labelExpr": "replace(datum.label, '−', '-')", "offset": -5, "title": "Per cent", "titleAngle": 0, "titleAlign": "left", "titleBaseline": "alphabetic", "titleX": -16.3, "titleY": -10.3, "labelPadding": 2, "tickSize": 4}}}},
     {"data": {"values": [{"t": 1985}, {"t": 1990}, {"t": 1995}, {"t": 2000}, {"t": 2005}, {"t": 2010}, {"t": 2015}]}, "mark": {"type": "rule", "color": "#8c8c8c", "strokeWidth": 1},
      "encoding": {"x": {"field": "t", "type": "quantitative", "scale": {"domain": [1980, 2019.1], "range": [5, 264], "nice": false, "zero": false}, "axis": {"values": [1980, 1985, 1990, 1995, 2000, 2005, 2010, 2015], "tickCount": 50, "labelOverlap": false, "labelExpr": "format(datum.value % 100, '02d')", "title": null, "domain": false, "ticks": false, "tickSize": 0, "labelPadding": 6}},
        "y": {"datum": 0, "type": "quantitative", "scale": {"domain": [-8, 14], "nice": false, "zero": false}}, "y2": {"datum": -0.45}}},
     {"data": {"name": "ip4"}, "mark": {"type": "line", "color": "#000000", "strokeWidth": 1.6, "clip": true},
      "encoding": {"x": {"field": "t", "type": "quantitative", "scale": {"domain": [1980, 2019.1], "range": [5, 264], "nice": false, "zero": false}}, "y": {"field": "v", "type": "quantitative", "scale": {"domain": [-8, 14], "nice": false, "zero": false}}}},
     {"data": {"name": "ip4d"}, "mark": {"type": "line", "color": "#000000", "strokeWidth": 1.6, "strokeDash": [2, 2]},
      "encoding": {"x": {"field": "t", "type": "quantitative", "scale": {"domain": [1980, 2019.1], "range": [5, 264], "nice": false, "zero": false}}, "y": {"field": "v", "type": "quantitative", "scale": {"domain": [-8, 14], "nice": false, "zero": false}}}},
     {"data": {"name": "gdp4"}, "mark": {"type": "line", "color": "#e8141c", "strokeWidth": 1.4, "clip": true},
      "encoding": {"x": {"field": "t", "type": "quantitative", "scale": {"domain": [1980, 2019.1], "range": [5, 264], "nice": false, "zero": false}}, "y": {"field": "v", "type": "quantitative", "scale": {"domain": [-8, 14], "nice": false, "zero": false}}}},
     {"data": {"values": [{"t": 1990.01, "v": 9.28, "label": "GDP"}]}, "mark": {"type": "text", "color": "#e8141c", "fontSize": 10.5},
      "encoding": {"x": {"field": "t", "type": "quantitative", "scale": {"domain": [1980, 2019.1], "range": [5, 264], "nice": false, "zero": false}}, "y": {"field": "v", "type": "quantitative", "scale": {"domain": [-8, 14], "nice": false, "zero": false}}, "text": {"field": "label"}}},
     {"data": {"values": [{"t": 1996.86, "v": -4.59, "label": "IP"}]}, "mark": {"type": "text", "color": "#111111", "fontSize": 10.5},
      "encoding": {"x": {"field": "t", "type": "quantitative", "scale": {"domain": [1980, 2019.1], "range": [5, 264], "nice": false, "zero": false}}, "y": {"field": "v", "type": "quantitative", "scale": {"domain": [-8, 14], "nice": false, "zero": false}}, "text": {"field": "label"}}},
     {"data": {"values": [{"t": 1981.2, "v": -7.29, "label": "Dashed lines indicate 2019Q1 projections."}]}, "mark": {"type": "text", "color": "#111111", "fontSize": 8, "align": "left"},
      "encoding": {"x": {"field": "t", "type": "quantitative", "scale": {"domain": [1980, 2019.1], "range": [5, 264], "nice": false, "zero": false}}, "y": {"field": "v", "type": "quantitative", "scale": {"domain": [-8, 14], "nice": false, "zero": false}}, "text": {"field": "label"}}}
   ]
  },

  {"width": 1, "height": 31, "data": {"values": [{"a": 0}]}, "mark": {"type": "text", "text": ""},
   "encoding": {"x": {"field": "a", "type": "quantitative", "scale": {"domain": [0, 1], "range": [0, 310]}, "axis": {"orient": "bottom", "labels": false, "ticks": false, "grid": false, "title": null, "domainColor": "#8c8c8c", "domainWidth": 1.2}}},
   "title": {"text": "Source: IMF, Macrobond, Macquarie Macro Strategy", "orient": "bottom", "anchor": "start", "frame": "group", "offset": -13, "dx": 2, "fontSize": 9.5, "fontWeight": "normal", "color": "#333333"}},
  {"width": 1, "height": 1, "data": {"values": []}, "mark": "text"},
  {"width": 1, "height": 1, "data": {"values": []}, "mark": "text"},
  {"width": 1, "height": 31, "data": {"values": [{"a": 0}]}, "mark": {"type": "text", "text": ""},
   "encoding": {"x": {"field": "a", "type": "quantitative", "scale": {"domain": [0, 1], "range": [-28, 282]}, "axis": {"orient": "bottom", "labels": false, "ticks": false, "grid": false, "title": null, "domainColor": "#8c8c8c", "domainWidth": 1.2}}},
   "title": {"text": "Source: IMF, Macrobond, Macquarie Macro Strategy", "orient": "bottom", "anchor": "start", "frame": "group", "offset": -13, "dx": -28, "fontSize": 9.5, "fontWeight": "normal", "color": "#333333"}},

  {"width": 1, "height": 50, "data": {"values": [{"a": 0}]}, "mark": {"type": "text", "text": ""},
   "encoding": {"x": {"field": "a", "type": "quantitative", "scale": {"domain": [0, 1], "range": [0, 637]}, "axis": {"orient": "bottom", "labels": false, "ticks": false, "grid": false, "title": null, "domainColor": "#7f7f7f", "domainWidth": 1.2}}},
   "title": {"text": "21 March 2019", "orient": "bottom", "anchor": "start", "frame": "group", "offset": 4.5, "fontSize": 10.5, "fontWeight": "normal", "color": "#333333"}},
  {"width": 1, "height": 50, "data": {"values": []}, "mark": "text",
   "title": {"text": "研报之家", "subtitle": "YBLOOK.COM", "orient": "bottom", "anchor": "start", "frame": "group", "offset": -14, "dx": 261, "font": "Noto Sans CJK SC", "fontSize": 25.5, "fontWeight": "bold", "color": "#2d5e8c", "subtitleFont": "Noto Sans", "subtitleFontSize": 16, "subtitleColor": "#2c85c6", "subtitlePadding": 2.5}},
  {"width": 1, "height": 1, "data": {"values": []}, "mark": "text"},
  {"width": 1, "height": 50, "data": {"values": []}, "mark": "text",
   "title": {"text": "3", "orient": "bottom", "anchor": "end", "frame": "group", "offset": 5, "dx": 283, "fontSize": 10.5, "fontWeight": "normal", "color": "#333333"}}
]
}
